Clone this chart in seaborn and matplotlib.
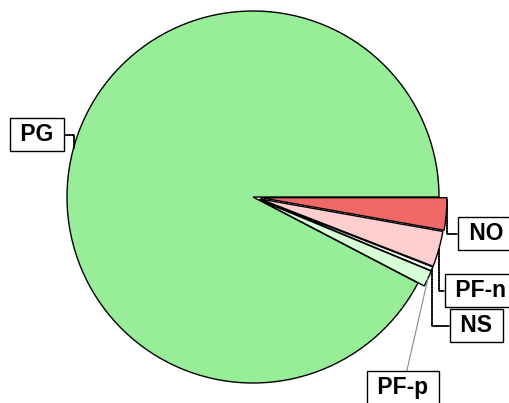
import numpy as np
import matplotlib
matplotlib.use("Agg")
import matplotlib.pyplot as plt
import seaborn as sns

# data (share of total)
labels = ["NO", "PF-n", "NS", "PF-p", "PG"]
values = [2.8, 3.1, 0.35, 1.4, 92.35]
colors = ["#f06868", "#ffcfcf", "#f4fff4", "#d6ffd6", "#98ee98"]

sns.set_theme(style="white")
plt.rcParams['font.family'] = ['Liberation Sans', 'DejaVu Sans']

W, H = 509, 403
R = 186
fig = plt.figure(figsize=(W / 100, H / 100), dpi=100)
ax = fig.add_axes([0, 0, 1, 1])

# pie explode is in data units (pixels here)
explode = [8, 7, 7, 7, 0]
wedges, _ = ax.pie(values, colors=colors, explode=explode, startangle=0,
                   counterclock=False, radius=R, center=(253, H - 197),
                   wedgeprops=dict(edgecolor="black", linewidth=1))
ax.set_xlim(0, W)
ax.set_ylim(0, H)
ax.set_aspect("equal")
ax.axis("off")

# label box centres (pixels, y measured from top) and where on the wedge
# arc the connector attaches (0 = start angle, 1 = end angle)
box_pos = {"NO": (486, 233.5), "PF-n": (481, 290.5), "NS": (476.5, 325.5),
           "PF-p": (403, 387.5), "PG": (37, 134.5)}
attach = {"NO": 0.95, "PF-n": 0.5, "NS": 0.5, "PF-p": 0.5, "PG": 0.495}

for w, lab in zip(wedges, labels):
    f = attach[lab]
    ang = np.deg2rad(w.theta1 + f * (w.theta2 - w.theta1))
    cx, cy = w.center
    px = cx + w.r * np.cos(ang)
    py = cy + w.r * np.sin(ang)
    bx, by = box_pos[lab]
    if lab == "PF-p":
        arrow = dict(arrowstyle="-", color="#888888", lw=0.8,
                     shrinkA=0, shrinkB=0)
    else:
        arrow = dict(arrowstyle="-", color="black", lw=1.2, linestyle=(0, (1, 0.6)),
                     connectionstyle="angle,angleA=0,angleB=90,rad=0",
                     shrinkA=0, shrinkB=0)
    ax.annotate(" " + lab + " ", xy=(px, py), xytext=(bx, H - by),
                textcoords="data", ha="center", va="center",
                fontsize=16.5, fontweight="bold", color="black",
                bbox=dict(boxstyle="square,pad=0.2", fc="white",
                          ec="black", lw=1),
                arrowprops=arrow, annotation_clip=False)

fig.savefig("out.png", dpi=100)
